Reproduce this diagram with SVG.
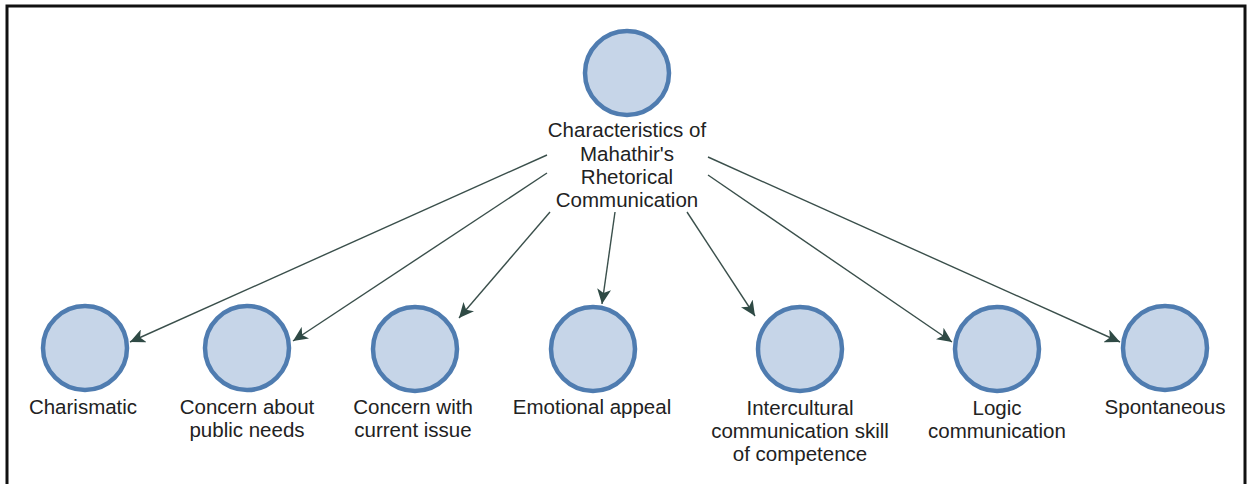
<svg xmlns="http://www.w3.org/2000/svg" width="1248" height="484" viewBox="0 0 1248 484">
<style>
.node circle{fill:#c6d5e8;stroke:#4f7cb0;stroke-width:4.5}
text{font-family:"Liberation Sans",Arial,sans-serif;font-size:20.5px;fill:#222;text-anchor:middle}
.conn line{stroke:#3a4f4b;stroke-width:1.4}
</style>
<defs>
<marker id="ah" markerUnits="userSpaceOnUse" markerWidth="16" markerHeight="14" viewBox="0 0 16 14" refX="15" refY="7" orient="auto">
<path d="M0,0 L15,7 L0,14 L4,7 Z" fill="#2f4a45"/>
</marker>
</defs>
<rect x="7" y="6" width="1238" height="500" fill="#fff" stroke="#111" stroke-width="3"/>
<g id="connectors" class="conn">
<line x1="547" y1="155" x2="130" y2="342" marker-end="url(#ah)"/>
<line x1="547" y1="173" x2="293" y2="341" marker-end="url(#ah)"/>
<line x1="550" y1="212" x2="459" y2="318" marker-end="url(#ah)"/>
<line x1="615" y1="212" x2="602" y2="304" marker-end="url(#ah)"/>
<line x1="687" y1="212" x2="755" y2="316" marker-end="url(#ah)"/>
<line x1="708" y1="175" x2="952" y2="342" marker-end="url(#ah)"/>
<line x1="708" y1="157" x2="1120" y2="342" marker-end="url(#ah)"/>
</g>
<g id="root" class="node">
<circle cx="627" cy="73" r="42"/>
<text x="627" y="137">Characteristics of</text>
<text x="627" y="161">Mahathir's</text>
<text x="627" y="184">Rhetorical</text>
<text x="627" y="207">Communication</text>
</g>
<g id="n1" class="node">
<circle cx="85" cy="348" r="42"/>
<text x="83" y="414">Charismatic</text>
</g>
<g id="n2" class="node">
<circle cx="247" cy="348" r="42"/>
<text x="247" y="414">Concern about</text>
<text x="247" y="437">public needs</text>
</g>
<g id="n3" class="node">
<circle cx="415" cy="349" r="42"/>
<text x="413" y="414">Concern with</text>
<text x="413" y="437">current issue</text>
</g>
<g id="n4" class="node">
<circle cx="593" cy="349" r="42"/>
<text x="592" y="414">Emotional appeal</text>
</g>
<g id="n5" class="node">
<circle cx="800" cy="349" r="42"/>
<text x="800" y="415">Intercultural</text>
<text x="800" y="438">communication skill</text>
<text x="800" y="461">of competence</text>
</g>
<g id="n6" class="node">
<circle cx="997" cy="349" r="42"/>
<text x="997" y="415">Logic</text>
<text x="997" y="438">communication</text>
</g>
<g id="n7" class="node">
<circle cx="1165" cy="348" r="42"/>
<text x="1165" y="414">Spontaneous</text>
</g>
</svg>
